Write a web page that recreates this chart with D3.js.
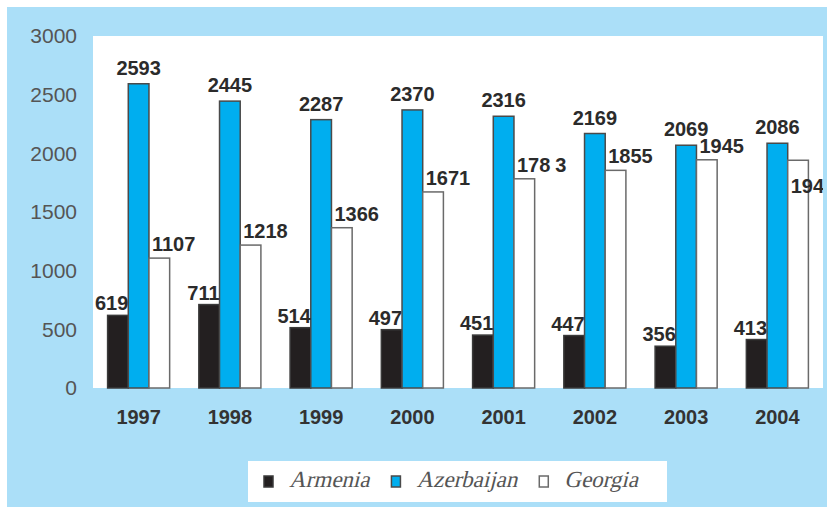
<!DOCTYPE html>
<html>
<head>
<meta charset="utf-8">
<script src="https://cdn.jsdelivr.net/npm/d3@7"></script>
<style>
  body { margin: 0; background: #fff; }
  svg { display: block; }
  .legend-label { font-family: "Liberation Serif", "DejaVu Serif", serif; font-style: normal; }
</style>
</head>
<body>
<svg id="chart"></svg>
<script>
const years = ["1997", "1998", "1999", "2000", "2001", "2002", "2003", "2004"];
const armenia = [619, 711, 514, 497, 451, 447, 356, 413];
const azerbaijan = [2593, 2445, 2287, 2370, 2316, 2169, 2069, 2086];
const georgia = [1107, 1218, 1366, 1671, 1783, 1855, 1945, 1941];
const seriesNames = ["Armenia", "Azerbaijan", "Georgia"];
const yTicks = [0, 500, 1000, 1500, 2000, 2500, 3000];

const width = 827;
const height = 508;
const plot = { left: 93, right: 823, top: 36, bottom: 388 };

const colors = { Armenia: "#231f20", Azerbaijan: "#00aeef", Georgia: "#ffffff" };
const strokes = { Armenia: "#3a3a3a", Azerbaijan: "#4a4a4a", Georgia: "#6a6a6a" };

const svg = d3.select("#chart").attr("width", width).attr("height", height);

// background panel
svg.append("rect")
  .attr("x", 7).attr("y", 7)
  .attr("width", width - 7).attr("height", height - 8)
  .attr("fill", "#abdff8");

svg.append("rect")
  .attr("x", plot.left).attr("y", plot.top)
  .attr("width", plot.right - plot.left).attr("height", plot.bottom - plot.top)
  .attr("fill", "#fff");

svg.append("clipPath").attr("id", "plotclip")
  .append("rect")
  .attr("x", plot.left).attr("y", 0)
  .attr("width", plot.right - plot.left).attr("height", plot.bottom);

const x0 = d3.scaleBand()
  .domain(years)
  .range([plot.left, plot.right])
  .paddingInner(0.32)
  .paddingOuter(0.16);

const x1 = d3.scaleBand()
  .domain(seriesNames)
  .range([0, x0.bandwidth()]);

const y = d3.scaleLinear()
  .domain([0, 3000])
  .range([plot.bottom, plot.top]);

const rows = years.map((yr, i) => ({
  year: yr,
  values: [
    { key: "Armenia", value: armenia[i] },
    { key: "Azerbaijan", value: azerbaijan[i] },
    { key: "Georgia", value: georgia[i] }
  ]
}));

// Y axis labels
const yAxis = svg.append("g")
  .attr("transform", `translate(${plot.left},0)`)
  .call(d3.axisLeft(y).tickValues(yTicks).tickFormat(d3.format("d")).tickSize(0).tickPadding(16));
yAxis.select(".domain").remove();
yAxis.selectAll("text")
  .attr("font-family", "'Liberation Sans', Arial, sans-serif")
  .attr("font-size", "21px")
  .attr("fill", "#555");

// X axis labels
const xAxis = svg.append("g")
  .attr("transform", `translate(0,${plot.bottom})`)
  .call(d3.axisBottom(x0).tickSize(0).tickPadding(22));
xAxis.select(".domain").remove();
xAxis.selectAll("text")
  .attr("font-family", "'Liberation Sans', Arial, sans-serif")
  .attr("font-size", "20px")
  .attr("font-weight", "bold")
  .attr("fill", "#333");

// Bars
const groups = svg.append("g").selectAll("g")
  .data(rows)
  .join("g")
  .attr("transform", d => `translate(${x0(d.year)},0)`);

groups.selectAll("rect")
  .data(d => d.values)
  .join("rect")
  .attr("x", d => x1(d.key))
  .attr("y", d => y(d.value))
  .attr("width", x1.bandwidth())
  .attr("height", d => plot.bottom - y(d.value))
  .attr("fill", d => colors[d.key])
  .attr("stroke", d => strokes[d.key])
  .attr("stroke-width", 1.5);

// Value labels
const labels = svg.append("g")
  .attr("clip-path", "url(#plotclip)")
  .attr("font-family", "'Liberation Sans', Arial, sans-serif")
  .attr("font-size", "20px")
  .attr("font-weight", "bold")
  .attr("fill", "#2b2b2b");

rows.forEach((row, i) => {
  const gx = x0(row.year);
  row.values.forEach(v => {
    const bx = gx + x1(v.key);
    const by = y(v.value);
    const t = labels.append("text");
    if (v.key === "Armenia") {
      t.attr("x", bx + x1.bandwidth()).attr("y", by - 5).attr("text-anchor", "end").text(v.value);
    } else if (v.key === "Azerbaijan") {
      t.attr("x", bx + x1.bandwidth() / 2).attr("y", by - 9).attr("text-anchor", "middle").text(v.value);
    } else {
      // last Georgia label sits inside the bar, below the Azerbaijan label
      const last = i === rows.length - 1;
      t.attr("x", bx + 3).attr("y", last ? by + 33 : by - 7).attr("text-anchor", "start");
      const s = String(v.value);
      if (row.year === "2001") {
        t.append("tspan").text(s.slice(0, 3));
        t.append("tspan").attr("dx", 5).text(s.slice(3));
      } else {
        t.text(s);
      }
    }
  });
});

// Legend
svg.append("rect")
  .attr("x", 248).attr("y", 461)
  .attr("width", 419).attr("height", 41)
  .attr("fill", "#fff");

let lx = 264;
seriesNames.forEach(name => {
  svg.append("rect")
    .attr("x", lx).attr("y", 476)
    .attr("width", 9).attr("height", 11)
    .attr("fill", colors[name])
    .attr("stroke", strokes[name])
    .attr("stroke-width", 1.5);
  // serif labels slanted by hand
  const t = svg.append("text")
    .attr("class", "legend-label")
    .attr("transform", `translate(${lx + 25},487) skewX(-14)`)
    .attr("font-size", "23px")
    .attr("fill", "#555")
    .text(name);
  lx += 25 + t.node().getComputedTextLength() + 22;
});
</script>
</body>
</html>
